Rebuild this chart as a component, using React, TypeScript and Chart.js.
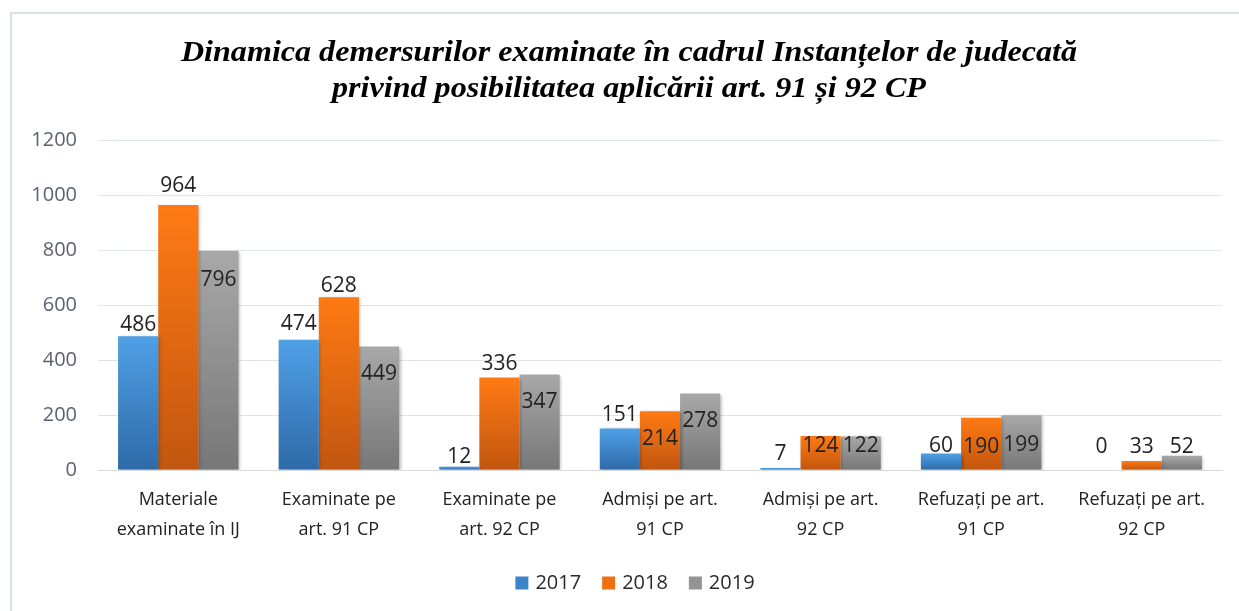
import React, { useEffect, useRef } from "react";
import { Chart, registerables } from "chart.js";

Chart.register(...registerables);

// ---- data ----
const titleLines = [
  "Dinamica demersurilor examinate în cadrul Instanțelor de judecată",
  "privind posibilitatea aplicării art. 91 și 92 CP",
];
const categories: string[][] = [
  ["Materiale", "examinate în IJ"],
  ["Examinate pe", "art. 91 CP"],
  ["Examinate pe", "art. 92 CP"],
  ["Admiși pe art.", "91 CP"],
  ["Admiși pe art.", "92 CP"],
  ["Refuzați pe art.", "91 CP"],
  ["Refuzați pe art.", "92 CP"],
];
const seriesNames = ["2017", "2018", "2019"];
const values2017 = [486, 474, 12, 151, 7, 60, 0];
const values2018 = [964, 628, 336, 214, 124, 190, 33];
const values2019 = [796, 449, 347, 278, 122, 199, 52];
const yMin = 0;
const yMax = 1200;
const yStep = 200;

// label placement (px, relative to bar top; negative = above)
const labelOffsets2017 = [-11, -16, -10, -13, -14, -7, -23];
const labelOffsets2018 = [-19, -11, -14, 28, 10, 29, -14];
const labelOffsets2019 = [29, 27, 27, 27, 10, 30, -9];

// ---- styles ----
const palette = [
  { top: "#4fa0e6", bottom: "#2e6aa8", legend: "#3b84cc" },
  { top: "#ff7a14", bottom: "#c1560f", legend: "#ee6e10" },
  { top: "#a8a8a8", bottom: "#777777", legend: "#949494" },
];
const SANS = "'Open Sans', 'Noto Sans', sans-serif";

export default function App() {
  const canvasRef = useRef<HTMLCanvasElement | null>(null);

  useEffect(() => {
    document.body.style.margin = "0";
    const canvas = canvasRef.current;
    if (!canvas) return;

    const seriesValues = [values2017, values2018, values2019];
    const offsets = [labelOffsets2017, labelOffsets2018, labelOffsets2019];

    const makeGradient = (i: number) => (c: any) => {
      const chart = c.chart;
      const y = chart.scales?.y;
      if (!chart.chartArea || !y || c.type !== "data") return palette[i].legend;
      const top = y.getPixelForValue(c.parsed.y);
      const base = y.getPixelForValue(0);
      if (!isFinite(top) || !isFinite(base) || Math.abs(base - top) < 1) return palette[i].legend;
      const g = chart.ctx.createLinearGradient(0, top, 0, base);
      g.addColorStop(0, palette[i].top);
      g.addColorStop(1, palette[i].bottom);
      return g;
    };

    const decorPlugin = {
      id: "decor",
      beforeDraw(chart: any) {
        const ctx = chart.ctx;
        ctx.save();
        ctx.fillStyle = "#ffffff";
        ctx.fillRect(0, 0, chart.width, chart.height);
        ctx.strokeStyle = "#dadee5";
        ctx.lineWidth = 2;
        ctx.beginPath();
        ctx.moveTo(11, chart.height);
        ctx.lineTo(11, 13);
        ctx.lineTo(chart.width, 13);
        ctx.stroke();
        ctx.restore();
      },
      beforeDatasetsDraw(chart: any) {
        const ctx = chart.ctx;
        ctx.save();
        ctx.shadowColor = "rgba(0,0,0,0.28)";
        ctx.shadowBlur = 3;
        ctx.shadowOffsetX = 1.5;
        ctx.shadowOffsetY = 1;
      },
      afterDatasetsDraw(chart: any) {
        chart.ctx.restore();
      },
      afterDraw(chart: any) {
        const ctx = chart.ctx;
        ctx.save();
        // title (slightly widened serif, as in the original)
        ctx.fillStyle = "#000000";
        ctx.font = "italic bold 30px 'Liberation Serif', 'DejaVu Serif', serif";
        ctx.textAlign = "center";
        ctx.textBaseline = "alphabetic";
        const sx = 1.07;
        ctx.save();
        ctx.translate(629, 0);
        ctx.scale(sx, 1);
        ctx.fillText(titleLines[0], 0, 61);
        ctx.fillText(titleLines[1], 0, 97);
        ctx.restore();

        // data labels
        ctx.font = "21px " + SANS;
        ctx.fillStyle = "#222222";
        ctx.textAlign = "center";
        ctx.textBaseline = "middle";
        chart.data.datasets.forEach((ds: any, di: number) => {
          const meta = chart.getDatasetMeta(di);
          meta.data.forEach((bar: any, j: number) => {
            const v = seriesValues[di][j];
            ctx.fillText(String(v), bar.x, bar.y + offsets[di][j]);
          });
        });

        // legend
        ctx.font = "20px " + SANS;
        ctx.textBaseline = "middle";
        ctx.textAlign = "left";
        const box = 13;
        const gapBoxText = 7;
        const gapItems = 21;
        const widths = seriesNames.map((n) => ctx.measureText(n).width);
        const total =
          widths.reduce((a, b) => a + b, 0) +
          seriesNames.length * (box + gapBoxText) +
          (seriesNames.length - 1) * gapItems;
        let x = 635 - total / 2;
        const cy = 583;
        seriesNames.forEach((n, i) => {
          ctx.fillStyle = palette[i].legend;
          ctx.fillRect(x, cy - box / 2, box, box);
          x += box + gapBoxText;
          ctx.fillStyle = "#2a2a2a";
          ctx.fillText(n, x, cy);
          x += widths[i] + gapItems;
        });
        ctx.restore();
      },
    };

    const chart = new Chart(canvas, {
      type: "bar",
      data: {
        labels: categories,
        datasets: seriesNames.map((name, i) => ({
          label: name,
          data: seriesValues[i],
          backgroundColor: makeGradient(i),
          borderWidth: 0,
          categoryPercentage: 0.75,
          barPercentage: 1.0,
        })),
      },
      options: {
        responsive: false,
        animation: false,
        devicePixelRatio: 1,
        layout: { padding: { top: 140, right: 17, left: 0, bottom: 0 } },
        plugins: {
          legend: { display: false },
          title: { display: false },
          tooltip: { enabled: false },
        },
        scales: {
          x: {
            type: "category",
            offset: true,
            grid: { display: false, drawTicks: false },
            border: { display: true, color: "#d9d9d9", width: 1 },
            ticks: {
              autoSkip: false,
              maxRotation: 0,
              minRotation: 0,
              padding: 15,
              color: "#222222",
              font: { family: SANS, size: 18, lineHeight: 1.667 },
            },
            afterFit: (scale: any) => {
              scale.height = 141;
            },
          },
          y: {
            min: yMin,
            max: yMax,
            grid: { color: "#dfe3ea", lineWidth: 1, drawTicks: false },
            border: { display: false },
            ticks: {
              stepSize: yStep,
              padding: 21,
              color: "#5a6272",
              font: { family: SANS, size: 20 },
              callback: (v: any) => String(v),
            },
            afterFit: (scale: any) => {
              scale.width = 98;
            },
          },
        },
      },
      plugins: [decorPlugin],
    } as any);

    return () => chart.destroy();
  }, []);

  return (
    <canvas
      ref={canvasRef}
      width={1239}
      height={611}
      style={{ display: "block", position: "absolute", left: 0, top: 0 }}
    />
  );
}
